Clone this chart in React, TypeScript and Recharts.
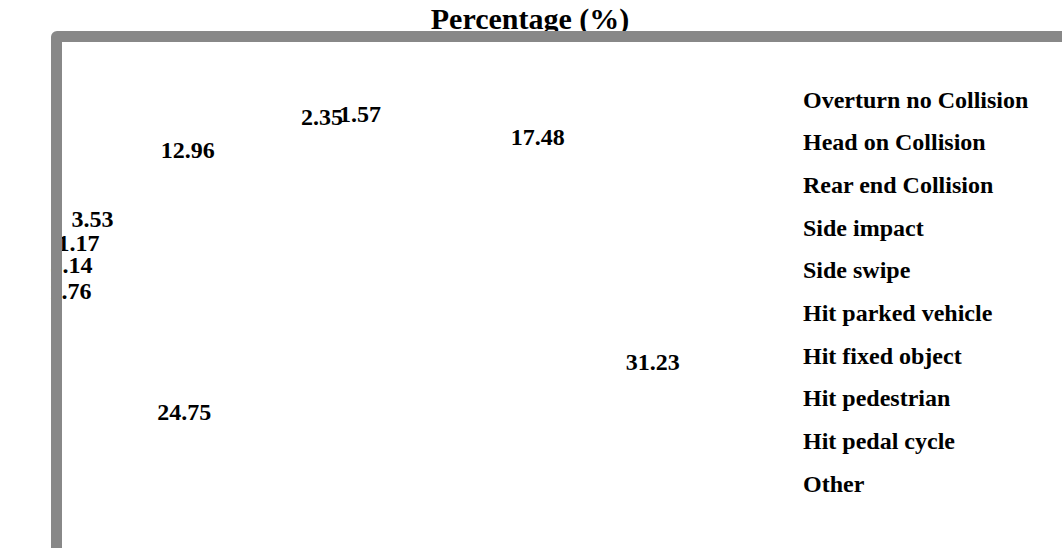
import React from 'react';
import { PieChart, Pie, Cell, Legend } from 'recharts';

const categories = [
  'Overturn no Collision',
  'Head on Collision',
  'Rear end Collision',
  'Side impact',
  'Side swipe',
  'Hit parked vehicle',
  'Hit fixed object',
  'Hit pedestrian',
  'Hit pedal cycle',
  'Other',
];
const percentages = [2.35, 1.57, 17.48, 31.23, 24.75, 1.76, 3.14, 1.17, 3.53, 12.96];
const chartTitle = 'Percentage (%)';

const data = categories.map((name, i) => ({ name, value: percentages[i] }));

const FONT = '"Liberation Serif", "Times New Roman", serif';
const RAD = Math.PI / 180;
const LABEL_X_STRETCH = 1.845;

const renderLabel = (props: any) => {
  const { cx, cy, midAngle, outerRadius, value, index } = props;
  const x = cx + outerRadius * LABEL_X_STRETCH * Math.cos(-midAngle * RAD);
  const y = cy + outerRadius * Math.sin(-midAngle * RAD);
  return (
    <text
      key={`lbl-${index}`}
      x={x}
      y={y}
      textAnchor="middle"
      dominantBaseline="central"
      fill="#000"
      style={{ fontFamily: FONT, fontWeight: 700, fontSize: 24 }}
    >
      {Number(value).toFixed(2)}
    </text>
  );
};

const renderLegend = () => (
  <div style={{ fontFamily: FONT, fontWeight: 700, fontSize: 24, color: '#000' }}>
    {categories.map((name) => (
      <div key={name} style={{ height: 42.7, lineHeight: '42.7px', whiteSpace: 'nowrap' }}>
        {name}
      </div>
    ))}
  </div>
);

export default function App() {
  return (
    <div
      style={{
        position: 'fixed',
        left: 0,
        top: 0,
        width: 1062,
        height: 548,
        overflow: 'hidden',
        background: '#fff',
      }}
    >
      <div
        style={{
          position: 'absolute',
          left: 330,
          top: 4,
          width: 400,
          textAlign: 'center',
          fontFamily: FONT,
          fontWeight: 700,
          fontSize: 30,
          lineHeight: '30px',
          color: '#000',
          whiteSpace: 'nowrap',
        }}
      >
        {chartTitle}
      </div>
      <div style={{ position: 'absolute', left: 0, top: 0 }}>
        <PieChart width={1062} height={548} margin={{ top: 0, right: 0, bottom: 0, left: 0 }}>
          <Pie
            data={data}
            dataKey="value"
            nameKey="name"
            cx={380}
            cy={282}
            outerRadius={168}
            startAngle={105}
            endAngle={-255}
            fill="none"
            stroke="none"
            labelLine={false}
            label={renderLabel}
            isAnimationActive={false}
          >
            {data.map((d) => (
              <Cell key={d.name} fill="none" stroke="none" />
            ))}
          </Pie>
          <Legend
            layout="vertical"
            align="center"
            verticalAlign="middle"
            content={renderLegend}
            wrapperStyle={{ left: 803, top: 78.6, width: 259 }}
          />
        </PieChart>
      </div>
      <div
        style={{
          position: 'absolute',
          left: 51,
          top: 31,
          width: 1100,
          height: 600,
          border: '11px solid #888888',
          borderRadius: 6,
          boxSizing: 'border-box',
          pointerEvents: 'none',
        }}
      />
    </div>
  );
}
